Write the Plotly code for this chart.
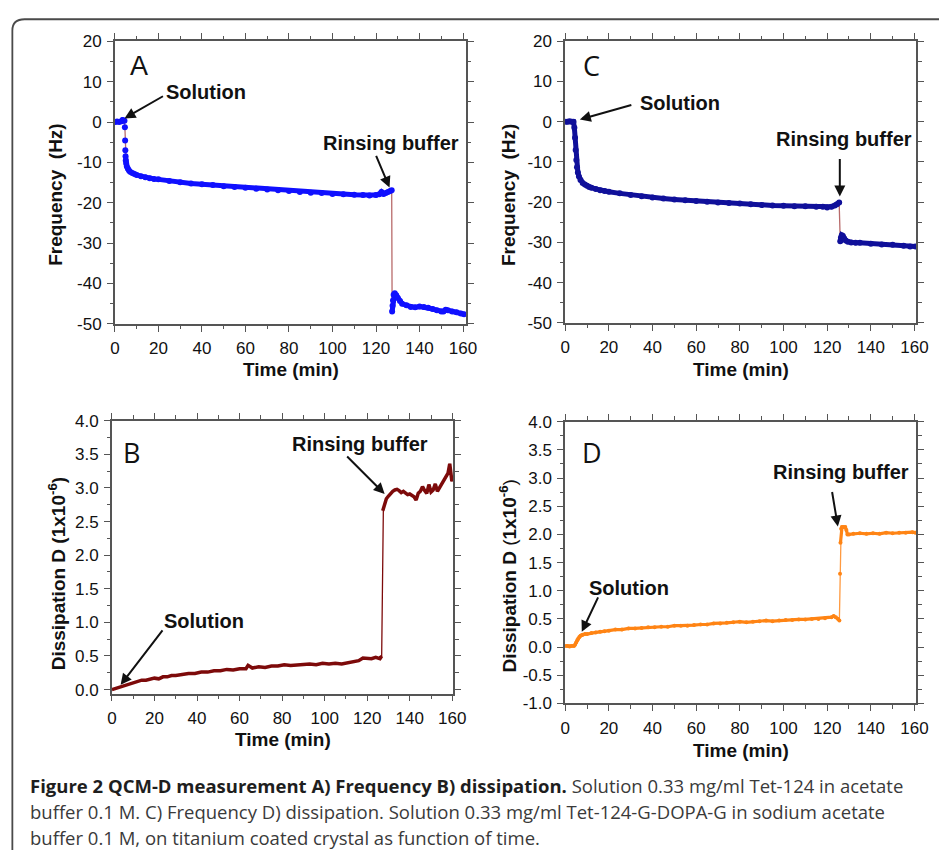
import plotly.graph_objects as go
import numpy as np

# ---------------- data ----------------
t_A = [0, 1, 2, 3, 3.5, 4, 4.4, 4.6, 4.7, 4.8, 4.9, 5.0, 5.2, 5.5, 6, 6.5, 7, 8, 9, 10,
       12, 14, 16, 18, 20, 25, 30, 35, 40, 45, 50, 55, 60, 65, 70, 75, 80, 85, 90, 95,
       100, 105, 110, 114, 117, 120, 121.5, 122.5, 123.5, 124.5, 125.5, 126.5, 127.2,
       127.4, 127.6, 127.8, 128.1, 128.6, 129.3, 130, 131, 132, 134, 136, 138, 140, 142,
       144, 146, 148, 150, 151, 152, 153, 155, 157, 159, 160.5]
f_A = [0, 0.1, 0, 0.2, 0.5, 0.4, 0.3, -1.3, -4.6, -7.0, -8.5, -9.5, -10.3, -11.0, -11.6,
       -12.0, -12.3, -12.6, -12.9, -13.1, -13.4, -13.7, -13.9, -14.1, -14.2, -14.6, -14.9,
       -15.2, -15.4, -15.6, -15.9, -16.1, -16.3, -16.5, -16.7, -16.9, -17.1, -17.3, -17.5,
       -17.6, -17.8, -17.9, -18.0, -18.1, -18.2, -18.1, -17.9, -17.3, -17.8, -17.6, -17.3,
       -17.1, -16.9, -46.9, -45.5, -44.2, -42.8, -42.4, -42.9, -43.6, -44.3, -45.0, -45.4,
       -45.8, -45.9, -45.7, -45.8, -46.0, -46.3, -46.6, -46.9, -46.9, -46.5, -46.6, -46.9,
       -47.1, -47.4, -47.6]

t_C = [0, 1, 2, 3, 3.8, 4.2, 4.5, 4.8, 5.1, 5.4, 5.8, 6.3, 7, 8, 9, 10, 11, 12, 14, 16,
       18, 20, 25, 30, 35, 40, 45, 50, 55, 60, 65, 70, 75, 80, 85, 90, 95, 100, 105, 110,
       115, 118, 120, 122, 123.5, 124.5, 125.5, 126.0, 126.3, 126.7, 127.2, 127.8, 128.5,
       129.5, 131, 133, 135, 140, 145, 150, 155, 158, 160.5]
f_C = [0, 0, 0.1, 0, 0, -1.5, -4, -7, -9.5, -11.3, -12.6, -13.6, -14.5, -15.2, -15.6,
       -15.9, -16.2, -16.4, -16.7, -17.0, -17.2, -17.4, -17.8, -18.2, -18.5, -18.8, -19.1,
       -19.3, -19.5, -19.7, -19.9, -20.1, -20.2, -20.3, -20.5, -20.7, -20.8, -20.9, -21.0,
       -21.0, -21.1, -21.1, -21.3, -21.1, -20.8, -20.5, -20.1, -29.7, -28.8, -28.2, -28.4,
       -29.0, -29.5, -29.8, -30.0, -30.1, -30.1, -30.3, -30.5, -30.6, -30.8, -31.0, -31.0]

t_B = [0, 1, 2, 3, 4, 5, 6, 7, 8, 10, 12, 14, 16, 18, 20, 22, 24, 26, 28, 30, 33, 36, 39,
       42, 45, 48, 51, 54, 57, 60, 63, 64, 66, 69, 72, 75, 78, 81, 84, 87, 90, 93, 96, 99,
       102, 105, 108, 111, 114, 116, 118, 120, 122, 124, 126, 126.8, 127.3, 127.6, 128,
       128.5, 129, 130, 131, 132, 133, 134, 135, 136, 137, 138, 139, 140, 141, 142, 143,
       144, 145, 146, 147, 148, 149, 150, 151, 152, 153, 154, 155, 156, 157, 158, 158.8,
       159.3, 159.8, 160.3]
d_B = [0.0, 0.01, 0.02, 0.03, 0.05, 0.06, 0.07, 0.08, 0.09, 0.11, 0.12, 0.14, 0.14, 0.16,
       0.17, 0.16, 0.19, 0.19, 0.21, 0.21, 0.23, 0.24, 0.24, 0.26, 0.26, 0.28, 0.28, 0.30,
       0.29, 0.31, 0.31, 0.36, 0.32, 0.34, 0.33, 0.35, 0.35, 0.37, 0.36, 0.37, 0.37, 0.38,
       0.37, 0.39, 0.38, 0.39, 0.38, 0.40, 0.41, 0.43, 0.47, 0.47, 0.46, 0.48, 0.46, 0.50,
       2.66, 2.70, 2.75, 2.80, 2.84, 2.88, 2.92, 2.95, 2.97, 2.98, 2.96, 2.93, 2.95, 2.92,
       2.90, 2.91, 2.89, 2.87, 2.82, 2.92, 2.95, 3.02, 2.96, 2.92, 3.05, 2.94, 2.97, 3.06,
       2.95, 3.00, 3.05, 3.10, 3.15, 3.22, 3.36, 3.15, 3.10, 3.18]

t_D = [0, 1, 2, 3, 4, 4.5, 5, 5.5, 6, 6.5, 7, 7.5, 8, 9, 10, 12, 14, 16, 18, 20, 23, 26,
       29, 32, 35, 38, 41, 44, 47, 50, 53, 56, 59, 62, 65, 68, 71, 74, 77, 80, 83, 86, 89,
       92, 95, 98, 101, 104, 107, 110, 113, 116, 119, 122, 123, 124, 125, 125.6, 125.9,
       126.1, 126.4, 126.8, 127.5, 128.3, 128.8, 129.3, 130, 132, 135, 138, 141, 144, 147,
       150, 153, 156, 159, 160.5]
d_D = [0.02, 0.02, 0.01, 0.02, 0.02, 0.04, 0.08, 0.12, 0.15, 0.18, 0.20, 0.21, 0.22, 0.23,
       0.23, 0.25, 0.26, 0.27, 0.28, 0.29, 0.31, 0.31, 0.33, 0.33, 0.34, 0.35, 0.35, 0.36,
       0.36, 0.38, 0.38, 0.38, 0.39, 0.40, 0.40, 0.42, 0.42, 0.43, 0.44, 0.45, 0.44, 0.45,
       0.46, 0.47, 0.46, 0.47, 0.48, 0.48, 0.49, 0.49, 0.50, 0.50, 0.51, 0.53, 0.55, 0.53,
       0.50, 0.47, 1.30, 1.85, 2.10, 2.13, 2.13, 2.13, 2.08, 2.00, 2.00, 2.01, 2.02, 2.01,
       2.02, 2.01, 2.03, 2.02, 2.03, 2.03, 2.04, 2.03]

assert len(t_A) == len(f_A) and len(t_B) == len(d_B)
assert len(t_C) == len(f_C) and len(t_D) == len(d_D)

x_ticks = [0, 20, 40, 60, 80, 100, 120, 140, 160]
x_labels = ["0", "20", "40", "60", "80", "100", "120", "140", "160"]
yf_ticks = [20, 10, 0, -10, -20, -30, -40, -50]
yf_labels = ["20", "10", "0", "-10", "-20", "-30", "-40", "-50"]
yB_ticks = [4.0, 3.5, 3.0, 2.5, 2.0, 1.5, 1.0, 0.5, 0.0]
yB_labels = ["4.0", "3.5", "3.0", "2.5", "2.0", "1.5", "1.0", "0.5", "0.0"]
yD_ticks = [4.0, 3.5, 3.0, 2.5, 2.0, 1.5, 1.0, 0.5, 0.0, -0.5, -1.0]
yD_labels = ["4.0", "3.5", "3.0", "2.5", "2.0", "1.5", "1.0", "0.5", "0.0", "-0.5", "-1.0"]

caption_bold = "Figure 2 QCM-D measurement A) Frequency B) dissipation."
caption_lines = [
    " Solution 0.33 mg/ml Tet-124 in acetate",
    "buffer 0.1 M. C) Frequency D) dissipation. Solution 0.33 mg/ml Tet-124-G-DOPA-G in sodium acetate",
    "buffer 0.1 M, on titanium coated crystal as function of time.",
]

# ---------------- layout helpers ----------------
W, H = 952, 864
def px(x):
    return x / W
def py(y):
    return 1 - y / H

def segmented(t, v, thr):
    xs, ys = [t[0]], [v[0]]
    for i in range(1, len(t)):
        if abs(v[i] - v[i - 1]) > thr:
            xs.append(None)
            ys.append(None)
        xs.append(t[i])
        ys.append(v[i])
    return xs, ys

fig = go.Figure()

def add_panel(t, v, xa, ya, main, thin, thr, lw, msize):
    fig.add_trace(go.Scatter(x=t, y=v, mode="lines", xaxis=xa, yaxis=ya,
                             line=dict(color=thin, width=1.3), showlegend=False,
                             hoverinfo="skip"))
    sx, sy = segmented(t, v, thr)
    mode = "lines+markers" if msize > 0 else "lines"
    fig.add_trace(go.Scatter(x=sx, y=sy, mode=mode, xaxis=xa, yaxis=ya,
                             line=dict(color=main, width=lw),
                             marker=dict(color=main, size=msize),
                             connectgaps=False, showlegend=False))

add_panel(t_A, f_A, "x", "y", "#1010ff", "#b86a6a", 1.45, 5, 6)
add_panel(t_C, f_C, "x2", "y2", "#10109a", "#b86a6a", 5, 5, 6)
add_panel(t_B, d_B, "x3", "y3", "#7d0a0a", "#7d0a0a", 0.5, 3.5, 0)
add_panel(t_D, d_D, "x4", "y4", "#ff8414", "#ff9a40", 0.5, 3.2, 4)

TICKFONT = dict(family="Liberation Sans, Arial, sans-serif", size=17, color="#111")
AXC = "#555"

def xaxis(dom, rng, anchor):
    return dict(domain=[px(dom[0]), px(dom[1])], range=rng, anchor=anchor,
                tickmode="array", tickvals=x_ticks, ticktext=x_labels,
                showline=True, linecolor=AXC, linewidth=1.6, mirror="ticks",
                ticks="outside", ticklen=6, tickwidth=1.4, tickcolor=AXC,
                minor=dict(tickmode="array", tickvals=list(range(10, 170, 20)),
                           ticks="outside", ticklen=3.5, tickwidth=1.2, tickcolor=AXC),
                showgrid=False, zeroline=False, tickfont=TICKFONT, ticklabelstandoff=2)

def yaxis(dom, rng, anchor, tv, tt, minor_vals):
    return dict(domain=[py(dom[1]), py(dom[0])], range=rng, anchor=anchor,
                tickmode="array", tickvals=tv, ticktext=tt,
                showline=True, linecolor=AXC, linewidth=1.6, mirror="ticks",
                ticks="outside", ticklen=6, tickwidth=1.4, tickcolor=AXC,
                minor=dict(tickmode="array", tickvals=minor_vals,
                           ticks="outside", ticklen=3.5, tickwidth=1.2, tickcolor=AXC),
                showgrid=False, zeroline=False, tickfont=TICKFONT, ticklabelstandoff=2)

minor_f = [15, 5, -5, -15, -25, -35, -45]
minor_B = [3.75, 3.25, 2.75, 2.25, 1.75, 1.25, 0.75, 0.25]
minor_D = minor_B + [-0.25, -0.75]

layout = dict(
    width=W, height=H, margin=dict(l=0, r=0, t=0, b=0),
    paper_bgcolor="white", plot_bgcolor="white", showlegend=False,
    xaxis=xaxis((112, 470), [0, 161.4], "y"),
    yaxis=yaxis((33, 322), [-50, 20], "x", yf_ticks, yf_labels, minor_f),
    xaxis2=xaxis((571, 929), [0, 160.9], "y2"),
    yaxis2=yaxis((33, 321), [-50, 20], "x2", yf_ticks, yf_labels, minor_f),
    xaxis3=xaxis((109, 457), [0, 160.5], "y3"),
    yaxis3=yaxis((421, 700), [-0.06, 4.0], "x3", yB_ticks, yB_labels, minor_B),
    xaxis4=xaxis((571, 929), [0, 160.9], "y4"),
    yaxis4=yaxis((422, 710), [-1.0, 4.0], "x4", yD_ticks, yD_labels, minor_D),
)
fig.update_layout(**layout)

ann = []
LBL = dict(family="Liberation Sans, Arial, sans-serif", size=20, color="#111")
# panel letters
for txt, x, y, xr, yr, fam in [("A", 11.3, 14.0, "x", "y", "Liberation Sans, Arial"),
                               ("C", 12.1, 14.0, "x2", "y2", "Open Sans"),
                               ("B", 9.2, 3.53, "x3", "y3", "Open Sans"),
                               ("D", 12.1, 3.46, "x4", "y4", "Open Sans")]:
    ann.append(dict(text=txt, x=x, y=y, xref=xr, yref=yr, showarrow=False,
                    font=dict(family=fam, size=27, color="#111")))
# text labels
for txt, x, y, xr, yr in [("Solution", 22.5, 7.5, "x", "y"),
                          ("Rinsing buffer", 94.6, -5.3, "x", "y"),
                          ("Solution", 33.3, 4.7, "x2", "y2"),
                          ("Rinsing buffer", 95.7, -4.3, "x2", "y2"),
                          ("Rinsing buffer", 83.9, 3.65, "x3", "y3"),
                          ("Solution", 23.5, 1.02, "x3", "y3"),
                          ("Rinsing buffer", 94.4, 3.11, "x4", "y4"),
                          ("Solution", 9.9, 1.05, "x4", "y4")]:
    ann.append(dict(text="<b>" + txt + "</b>", x=x, y=y, xref=xr, yref=yr,
                    xanchor="left", yanchor="middle", showarrow=False, font=LBL))
# arrows
for x, y, axp, ayp, xr, yr in [(4.4, 0.9, 40, -23, "x", "y"),
                               (126.2, -16.2, -14, -33, "x", "y"),
                               (6.7, 0.56, 53, -15, "x2", "y2"),
                               (125.8, -18.6, 0, -39, "x2", "y2"),
                               (128.2, 2.91, -39, -39, "x3", "y3"),
                               (4.1, 0.07, 43, -56, "x3", "y3"),
                               (124.9, 2.14, -6, -36, "x4", "y4"),
                               (7.6, 0.27, 17, -36, "x4", "y4")]:
    ann.append(dict(text="", x=x, y=y, xref=xr, yref=yr, ax=axp, ay=ayp,
                    showarrow=True, arrowhead=2, arrowsize=1.1, arrowwidth=2,
                    arrowcolor="#111"))
# axis titles
TF = dict(family="Liberation Sans, Arial, sans-serif", size=19, color="#111")
for txt, cx, cy, ang in [("<b>Frequency  (Hz)</b>", 52, 190, -90),
                         ("<b>Frequency  (Hz)</b>", 514, 190, -90),
                         ("<b>Dissipation D (1x10<sup>-6</sup>)</b>", 53, 577, -90),
                         ("<b>Dissipation D </b>(<b>1x10<sup>-6</sup></b>)", 513, 580, -90),
                         ("<b>Time (min)</b>", 292, 369, 0),
                         ("<b>Time (min)</b>", 750, 369, 0),
                         ("<b>Time (min)</b>", 283, 747, 0),
                         ("<b>Time (min)</b>", 750, 758, 0)]:
    ann.append(dict(text=txt, x=px(cx), y=py(cy), xref="paper", yref="paper",
                    xanchor="center", yanchor="middle", textangle=ang,
                    showarrow=False, font=TF))
# caption
CF = dict(family="Open Sans, sans-serif", size=18.5, color="#3a3a3a")
cap_texts = ["<span style='color:#1e1e1e'><b>" + caption_bold + "</b></span>" + caption_lines[0],
             caption_lines[1], caption_lines[2]]
for txt, cy in zip(cap_texts, [794, 821, 847]):
    ann.append(dict(text=txt, x=px(23), y=py(cy), xref="paper", yref="paper",
                    xanchor="left", yanchor="middle", showarrow=False, font=CF))
fig.update_layout(annotations=ann)

# frame (rounded corner box around the figure)
path = "M {:.5f} {:.5f} L {:.5f} {:.5f} Q {:.5f} {:.5f} {:.5f} {:.5f} L {:.5f} {:.5f}".format(
    px(7.5), py(860), px(7.5), py(22), px(7.5), py(10.5), px(20), py(10.5), px(952), py(10.5))
fig.add_shape(type="path", path=path, xref="paper", yref="paper",
              line=dict(color="#4a4a4a", width=1.8))

fig.write_html("out.html",
               post_script="document.body.style.margin='0px';"
                           "document.body.style.overflow='hidden';")
